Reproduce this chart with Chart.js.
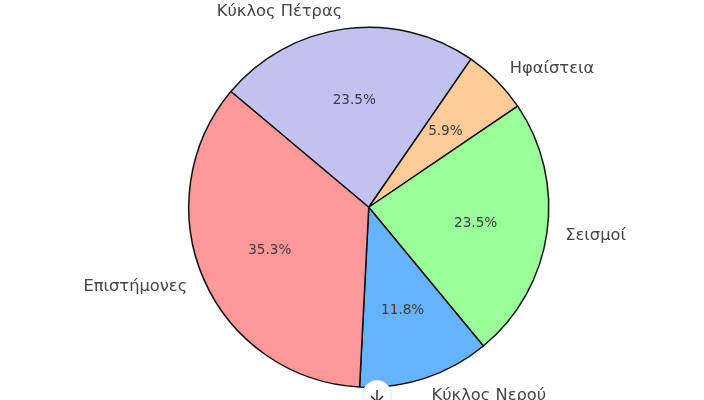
<!DOCTYPE html>
<html lang="el">
<head>
<meta charset="utf-8">
<title>Pie</title>
<script src="https://cdn.jsdelivr.net/npm/chart.js@4/dist/chart.umd.min.js"></script>
<style>
html,body{margin:0;padding:0;background:#fff;overflow:hidden}
#wrap{position:relative;width:704px;height:400px;overflow:hidden}
#btn{position:absolute;left:362px;top:379.5px;width:30px;height:30px;border-radius:50%;background:#fff;border:1px solid #e8e8e8;box-sizing:border-box;box-shadow:0 1px 2px rgba(0,0,0,.05)}
#btn svg{position:absolute;left:7px;top:8px}
</style>
</head>
<body>
<div id="wrap">
<canvas id="chart" width="704" height="400"></canvas>
<div id="btn"><svg width="14" height="14" viewBox="0 0 14 14" fill="none" stroke="#222" stroke-width="1.4"><path d="M7 1V13M1 7L7 13L13 7"/></svg></div>
</div>
<script>
// clockwise order, chart.js goes the other way round than the picture's source
const labels=["Κύκλος Πέτρας","Ηφαίστεια","Σεισμοί","Κύκλος Νερού","Επιστήμονες"];
const values=[23.5,5.9,23.5,11.8,35.3];
const colors=["#c2c2f0","#ffcc99","#99ff99","#66b3ff","#ff9999"];

const FONT='"DejaVu Sans"';
const pieLabels={id:"pieLabels",afterDatasetsDraw(c){
  const g=c.ctx, arcs=c.getDatasetMeta(0).data;
  g.save(); g.textBaseline="middle";
  arcs.forEach((a,i)=>{
    const p=a.getProps(["x","y","startAngle","endAngle","outerRadius"],true);
    const m=(p.startAngle+p.endAngle)/2, cs=Math.cos(m), sn=Math.sin(m);
    // percent inside
    g.fillStyle="#3c3c3c"; g.font="13.6px "+FONT; g.textAlign="center";
    g.fillText(values[i].toFixed(1)+"%",p.x+cs*p.outerRadius*0.6,p.y+sn*p.outerRadius*0.6+0.5);
    // name outside
    g.fillStyle="#444"; g.font="16.3px "+FONT; g.textAlign=cs>0?"left":"right";
    g.fillText(labels[i],p.x+cs*p.outerRadius*1.1+(cs>0?0.5:0),p.y+sn*p.outerRadius*1.1+0.5);
  });
  g.restore();
}};

new Chart(document.getElementById("chart"),{
  type:"pie",
  data:{labels,datasets:[{data:values,backgroundColor:colors,borderColor:"#111",borderWidth:1.5,borderAlign:"center",hoverOffset:0}]},
  options:{responsive:false,animation:false,rotation:-50,
    layout:{padding:{left:188,right:154.5,top:26.5,bottom:12}},
    plugins:{legend:{display:false},tooltip:{enabled:false}}},
  plugins:[pieLabels]
});
</script>
</body>
</html>
